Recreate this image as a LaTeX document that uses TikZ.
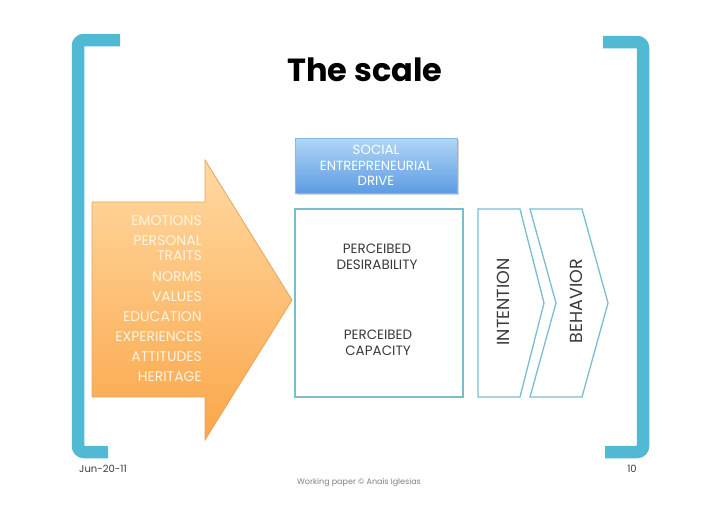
\documentclass[tikz,border=0pt]{standalone}
\usepackage{fontspec}
\setmainfont{Poppins}
\usetikzlibrary{shadows}
\definecolor{brk}{HTML}{52B9D4}
\definecolor{boxline}{HTML}{78BDD0}
\definecolor{bluetop}{HTML}{B2D6F6}
\definecolor{bluebot}{HTML}{5C9CE2}
\definecolor{bluebord}{HTML}{8AB6E6}
\definecolor{ortop}{HTML}{FFD9A2}
\definecolor{orbot}{HTML}{FBA649}
\definecolor{orline}{HTML}{E9A458}
\definecolor{ortext}{HTML}{FFF4E0}
\definecolor{txt}{HTML}{3A3A3A}
\tikzset{
  bracket/.style={draw=brk, line width=12.5pt, rounded corners=6pt},
  outline/.style={draw=boxline, line width=1.3pt},
  factor/.style={anchor=east, text=ortext, font=\fontsize{14}{15}\selectfont, inner sep=0pt},
  boxtext/.style={align=center, text=txt, font=\fontsize{13.5}{15.5}\selectfont, inner sep=0pt},
  vlabel/.style={rotate=90, text=txt, font=\fontsize{17.5}{19}\selectfont, inner sep=0pt},
  foot/.style={text=txt, font=\fontsize{10}{12}\selectfont, inner sep=0pt}
}
\begin{document}
\begin{tikzpicture}[x=1pt,y=-1pt]
\useasboundingbox (0,0) rectangle (728,515);
% brackets
\draw[bracket] (120,40) -- (78,40) -- (78,452) -- (108,452);
\draw[bracket] (603,42) -- (643,42) -- (643,452) -- (605,452);
% title
\node (title) at (365,70) {\fontsize{32}{34}\selectfont\bfseries The scale};
% blue box
\node[draw=bluebord, line width=0.6pt, top color=bluetop, bottom color=bluebot,
  drop shadow={shadow xshift=1.5pt, shadow yshift=-2pt, opacity=0.35},
  minimum width=162pt, minimum height=55pt, inner sep=0pt,
  align=center, text=white, font=\fontsize{13.3}{15.5}\selectfont] (drive) at (376,165.5)
  {SOCIAL\\ENTREPRENEURIAL\\DRIVE};
% orange arrow
\path[draw=orline, line width=0.8pt, top color=ortop, bottom color=orbot]
  (92,202) -- (205,202) -- (205,160) -- (292,300) -- (205,440) -- (205,397) -- (92,397) -- cycle;
\node[factor] (f1) at (202,221) {EMOTIONS};
\node[factor] (f2) at (202,241) {PERSONAL};
\node[factor] (f3) at (202,256) {TRAITS};
\node[factor] (f4) at (202,277) {NORMS};
\node[factor] (f5) at (202,297) {VALUES};
\node[factor] (f6) at (202,317) {EDUCATION};
\node[factor] (f7) at (202,337) {EXPERIENCES};
\node[factor] (f8) at (202,357) {ATTITUDES};
\node[factor] (f9) at (202,377) {HERITAGE};
% main box
\draw[outline] (295,209) rectangle (463,397);
\node[boxtext] (desir) at (377,257) {PERCEIBED\\DESIRABILITY};
\node[boxtext] (capac) at (378,343) {PERCEIBED\\CAPACITY};
% chevrons
\draw[outline] (478,209) -- (520,209) -- (544,303) -- (520,397) -- (478,397) -- cycle;
\draw[outline] (530,209) -- (582,209) -- (608,303) -- (582,397) -- (530,397) -- (556,303) -- cycle;
\node[vlabel] (int) at (503,302) {INTENTION};
\node[vlabel] (beh) at (576,301) {BEHAVIOR};
% footer
\node[foot] (date) at (103,469) {Jun-20-11};
\node[foot] (page) at (632,469) {10};
\node[foot, text=gray, font=\fontsize{8}{10}\selectfont] (credit) at (359,483) {Working paper © Anais Iglesias};
\end{tikzpicture}
\end{document}
